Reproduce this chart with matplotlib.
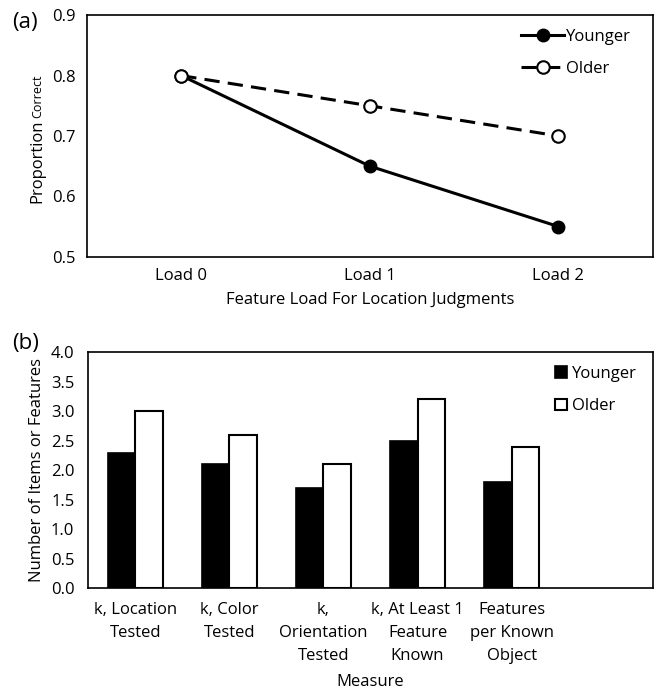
import numpy as np
import matplotlib.pyplot as plt

plt.rcParams['font.family'] = ['Open Sans', 'DejaVu Sans']
plt.rcParams['font.size'] = 12

loads = ["Load 0", "Load 1", "Load 2"]
younger_pc = [0.80, 0.65, 0.55]
older_pc = [0.80, 0.75, 0.70]

measures = ["k, Location\nTested", "k, Color\nTested", "k,\nOrientation\nTested",
            "k, At Least 1\nFeature\nKnown", "Features\nper Known\nObject", ""]
younger_n = [2.3, 2.1, 1.7, 2.5, 1.8]
older_n = [3.0, 2.6, 2.1, 3.2, 2.4]

fig = plt.figure(figsize=(6.54, 6.92), dpi=100)

# (a) line chart
ax1 = fig.add_axes([0.133, 0.629, 0.865, 0.349])
x = np.arange(len(loads))
ax1.plot(x, younger_pc, color="black", lw=2.2, marker="o", ms=9,
         mfc="black", mec="black", label="Younger", zorder=3)
ax1.plot(x, older_pc, color="black", lw=2.2, ls=(0, (5, 2.7)), marker="o", ms=9,
         mfc="white", mec="black", mew=1.5, label="Older", zorder=4)
ax1.set_xlim(-0.5, 2.5)
ax1.set_ylim(0.5, 0.9)
ax1.set_yticks([0.5, 0.6, 0.7, 0.8, 0.9])
ax1.set_xticks(x)
ax1.set_xticklabels(loads)
ax1.tick_params(length=0, pad=8)
ax1.set_xlabel("Feature Load For Location Judgments", labelpad=6)
ax1.legend(loc="upper right", frameon=False, handlelength=2.6, handletextpad=0.1,
           labelspacing=1.0, borderaxespad=0.4, bbox_to_anchor=(0.985, 1.0))
fig.text(0.057, 0.767, "Proportion", rotation=90, ha="center", va="center", fontsize=12)
fig.text(0.057, 0.861, "Correct", rotation=90, ha="center", va="center", fontsize=9)
fig.text(0.018, 0.968, "(a)", fontsize=16, va="center")

# (b) bar chart
ax2 = fig.add_axes([0.135, 0.150, 0.863, 0.341])
xb = np.arange(len(younger_n))
w = 0.29
ax2.bar(xb - w / 2, younger_n, w, color="black", edgecolor="black", lw=1.2, label="Younger")
ax2.bar(xb + w / 2, older_n, w, color="white", edgecolor="black", lw=1.5, label="Older")
ax2.set_xlim(-0.5, 5.5)
ax2.set_ylim(0, 4)
ax2.set_yticks(np.arange(0, 4.01, 0.5))
ax2.set_yticklabels([f"{v:.1f}" for v in np.arange(0, 4.01, 0.5)])
ax2.set_xticks(np.arange(len(measures)))
ax2.set_xticklabels(measures, linespacing=1.6)
ax2.tick_params(length=0, pad=10)
ax2.set_xlabel("Measure", labelpad=7)
ax2.set_ylabel("Number of Items or Features", labelpad=4)
ax2.legend(loc="upper right", frameon=False, handlelength=0.7, handleheight=0.7,
           handletextpad=0.3, labelspacing=1.0, borderaxespad=0.4,
           bbox_to_anchor=(0.995, 1.0))
fig.text(0.018, 0.504, "(b)", fontsize=16, va="center")

for ax in (ax1, ax2):
    for s in ax.spines.values():
        s.set_linewidth(1.2)

fig.savefig("out.png", dpi=100)
